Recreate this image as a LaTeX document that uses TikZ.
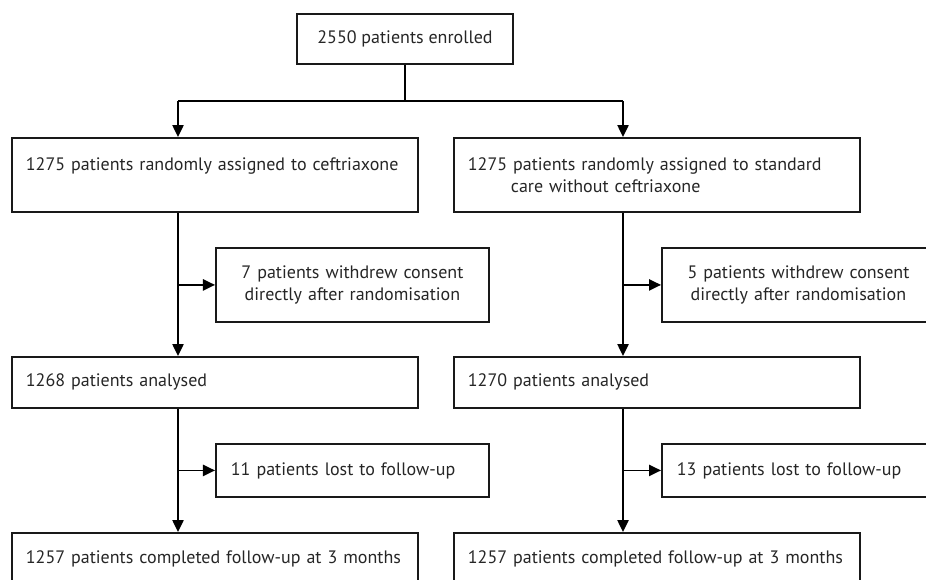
\documentclass[tikz,border=0pt]{standalone}
\usepackage{fontspec}
\setmainfont{PT Sans}
\usetikzlibrary{arrows.meta}

\begin{document}
\begin{tikzpicture}[x=0.025cm,y=-0.025cm,line width=1.3pt,
  block/.style={rectangle,draw=black!90,anchor=north west,text=black!85,font=\fontsize{12.8}{15.6}\selectfont},
  mainbox/.style={block,inner xsep=0.35cm,minimum width=10.15cm,text width=9.45cm,align=left},
  sidebox/.style={block,inner xsep=0.375cm,minimum width=6.825cm,text width=6.075cm},
  arr/.style={-{Triangle[length=0.3cm,width=0.28cm]}}]
\useasboundingbox (0,0) rectangle (926,579);
\clip (0,0) rectangle (926,579);
\node at (405,39) (enrol) [block,anchor=center,minimum width=5.4cm,minimum height=1.25cm] {2550 patients enrolled};
\node at ( 11,137) (ceft) [mainbox,minimum height=1.85cm] {1275 patients randomly assigned to ceftriaxone\\\mbox{}};
\node at (453,137) (stand) [mainbox,minimum height=1.85cm] {1275 patients randomly assigned to standard\\\hspace*{1.075cm}care without ceftriaxone};
\node at (215,247) (wdA) [sidebox,align=center,minimum height=1.85cm] {7 patients withdrew consent\\directly after randomisation};
\node at (661,247) (wdB) [sidebox,align=center,minimum height=1.85cm] {5 patients withdrew consent\\directly after randomisation};
\node at ( 11,356) (anaA) [mainbox,minimum height=1.275cm] {1268 patients analysed};
\node at (453,356) (anaB) [mainbox,minimum height=1.275cm] {1270 patients analysed};
\node at (215,443) (lostA) [sidebox,align=left,minimum height=1.325cm] {11 patients lost to follow-up};
\node at (661,443) (lostB) [sidebox,align=left,minimum height=1.325cm] {13 patients lost to follow-up};
\node at ( 11,532) (doneA) [mainbox,minimum height=1.275cm] {1257 patients completed follow-up at 3 months};
\node at (453,532) (doneB) [mainbox,minimum height=1.275cm] {1257 patients completed follow-up at 3 months};
% split below enrolment
\coordinate (split) at (405,101);
\coordinate (splitA) at (178,101);
\coordinate (splitB) at (623,101);
\draw (enrol.south) -- (split);
\draw (splitA) -- (splitB);
\draw [arr] (splitA) -- (splitA |- ceft.north);
\draw [arr] (splitB) -- (splitB |- stand.north);
% left arm
\draw [arr] (splitA |- ceft.south) -- (splitA |- anaA.north);
\draw [arr] (splitA |- wdA.west) -- (wdA.west);
\draw [arr] (splitA |- anaA.south) -- (splitA |- doneA.north);
\draw [arr] (splitA |- lostA.west) -- (lostA.west);
% right arm
\draw [arr] (splitB |- stand.south) -- (splitB |- anaB.north);
\draw [arr] (splitB |- wdB.west) -- (wdB.west);
\draw [arr] (splitB |- anaB.south) -- (splitB |- doneB.north);
\draw [arr] (splitB |- lostB.west) -- (lostB.west);
\end{tikzpicture}
\end{document}
